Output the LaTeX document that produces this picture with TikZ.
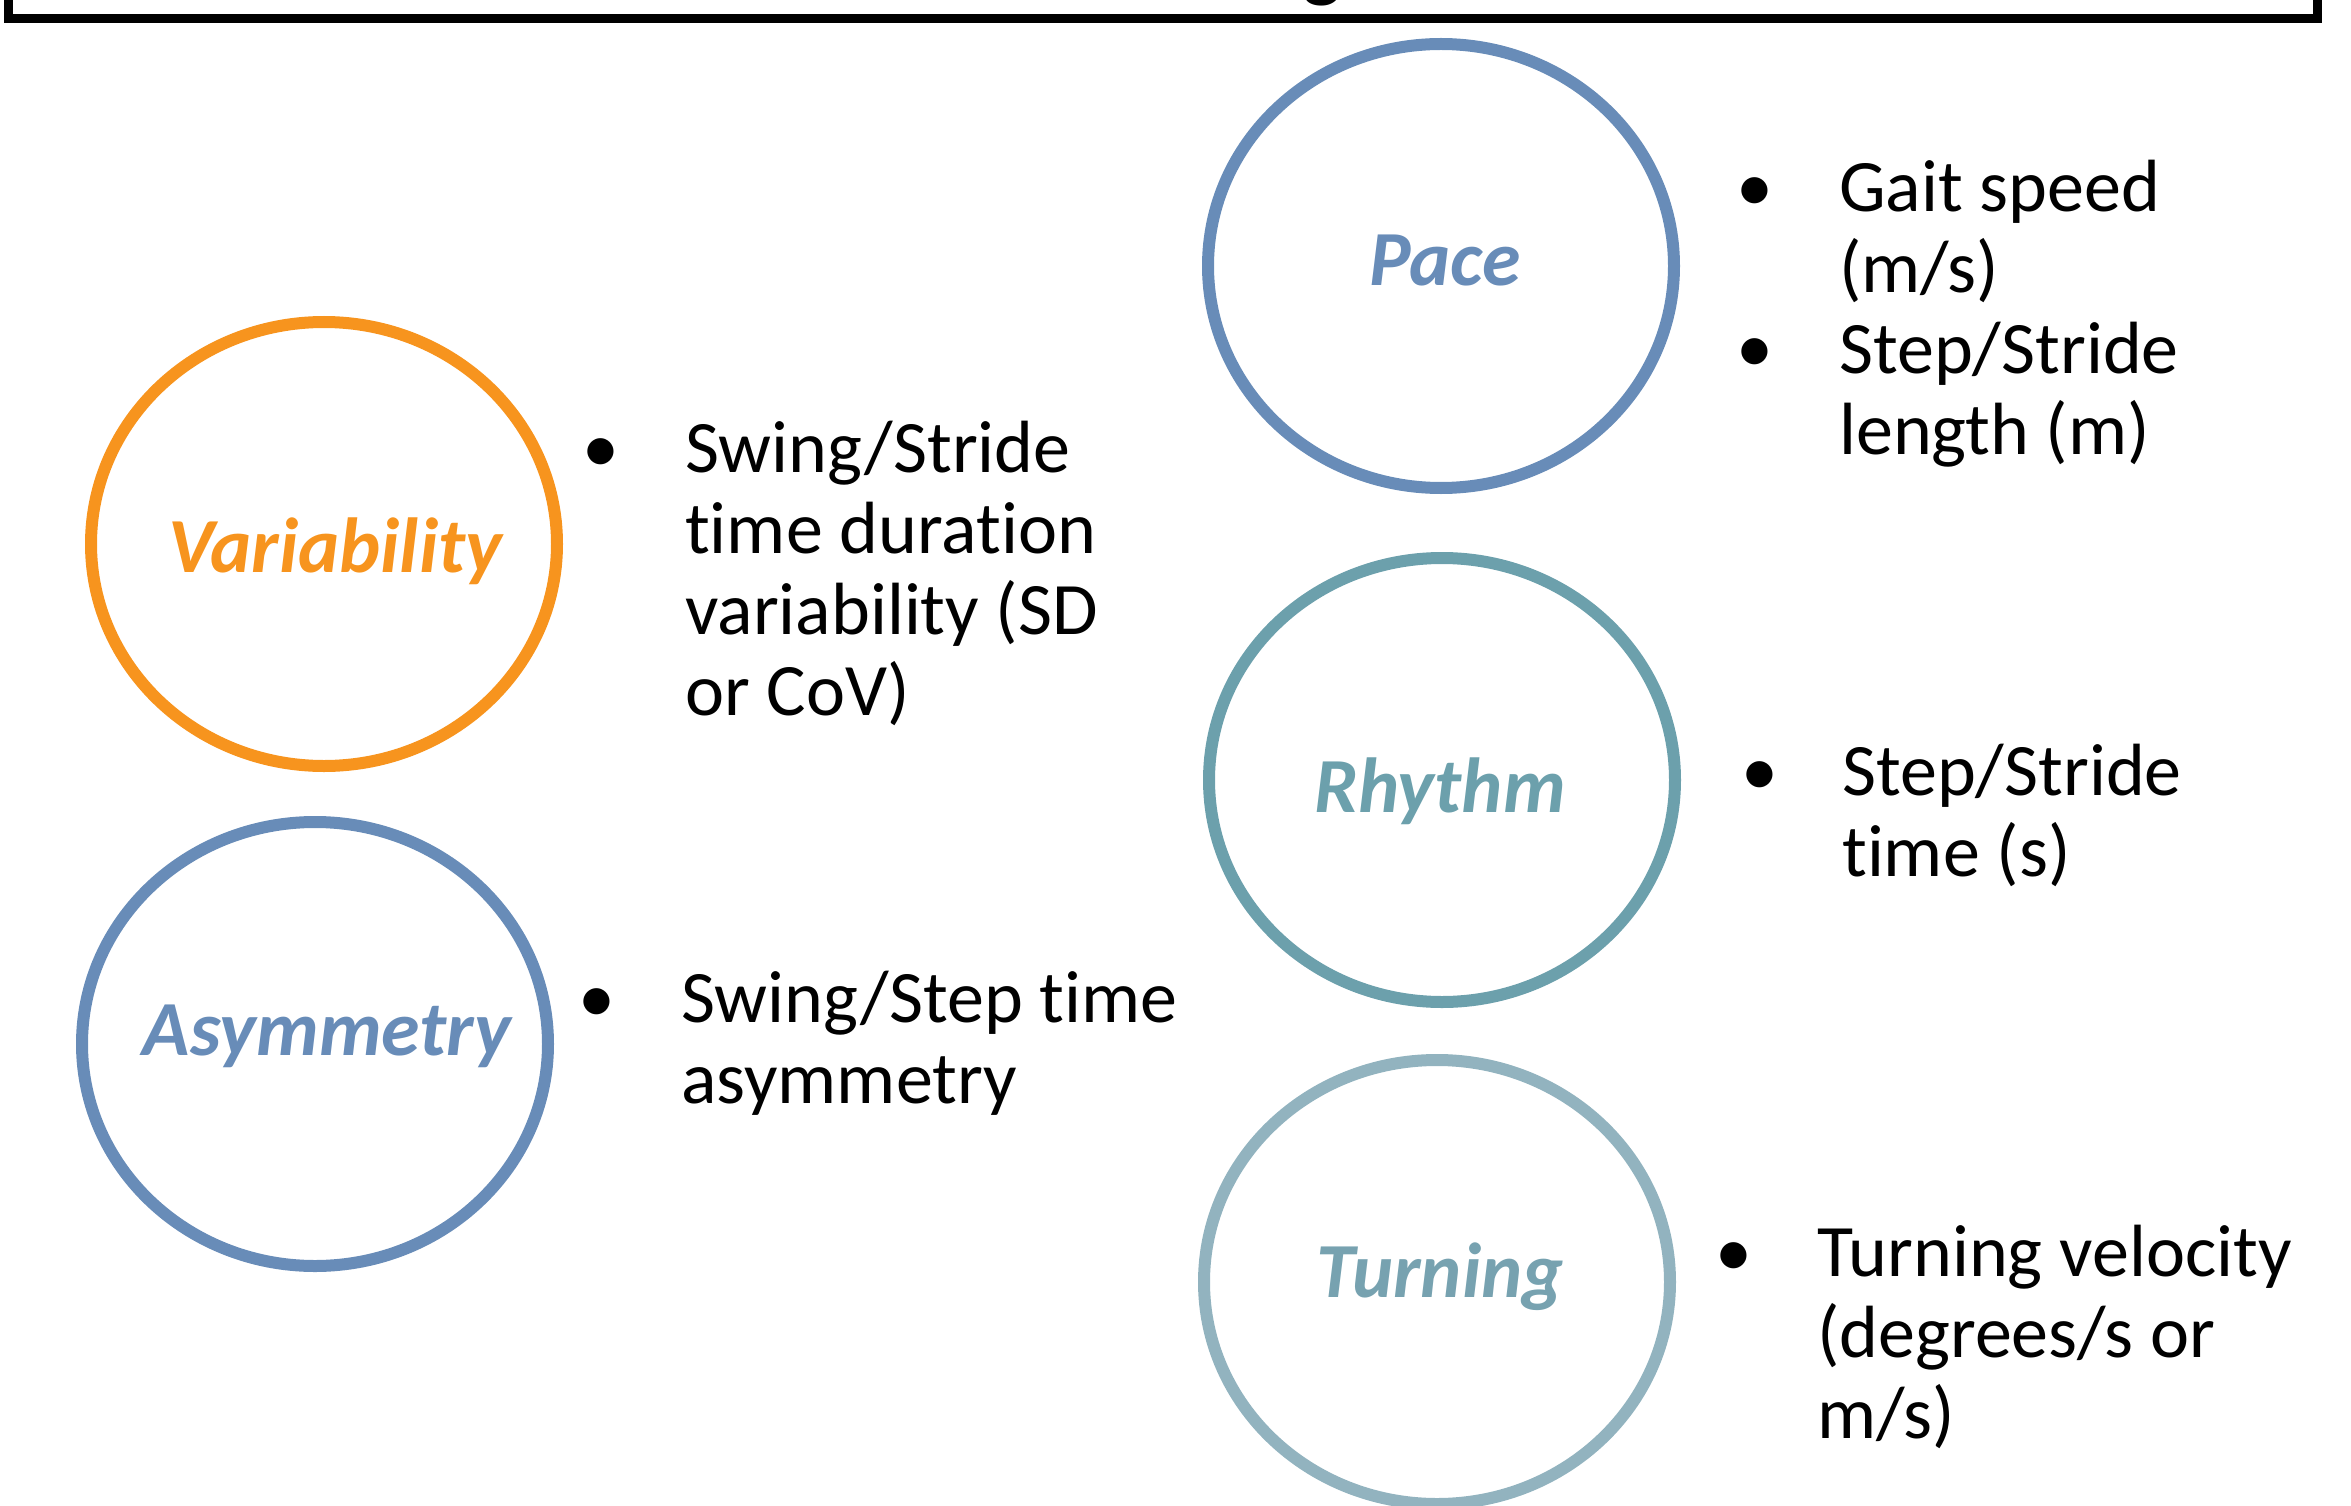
\documentclass[tikz,border=0pt]{standalone}
\usepackage{fontspec}
\setmainfont{Carlito}[Ligatures=CommonOff]
\usetikzlibrary{shapes.geometric}
\definecolor{pacec}{RGB}{104,140,184}
\definecolor{varc}{RGB}{247,148,30}
\definecolor{rhyc}{RGB}{108,160,172}
\definecolor{turnc}{RGB}{146,179,191}
\definecolor{turntext}{RGB}{119,162,176}
\begin{document}
\begin{tikzpicture}[x=1pt,y=-1pt,
  ring/.style={draw, ellipse, line width=12pt, minimum width=466pt, minimum height=444pt, inner sep=0pt},
  lab/.style={font=\fontsize{78}{90}\selectfont\bfseries\itshape, anchor=base, inner sep=0pt},
  item/.style={font=\fontsize{74}{81}\selectfont, align=left, anchor=base west, inner sep=0pt},
  dot/.style={font=\fontsize{74}{81}\selectfont, anchor=base, inner sep=0pt}
]
\useasboundingbox (0,0) rectangle (2351,1506);
% title frame (only its lower part is visible)
\node[draw, line width=9pt, minimum width=2309pt, minimum height=200pt, anchor=south, inner sep=0pt] (titlebox) at (1162.5,23.5) {};
\node[font=\fontsize{80}{90}\selectfont\bfseries, anchor=base, inner sep=0pt] (titleg) at (1322,-7) {g};

% circles
\node[ring, draw=pacec] (pace) at (1441,266) {};
\node[ring, draw=varc] (var) at (324,544) {};
\node[ring, draw=pacec] (asym) at (315,1044) {};
\node[ring, draw=rhyc] (rhy) at (1442,780) {};
\node[ring, draw=turnc] (turn) at (1437,1282) {};

% labels
\node[lab, text=pacec] (pacelab) at (1445,286) {Pace};
\node[lab, text=varc] (varlab) at (335,572) {Variability};
\node[lab, text=pacec] (asymlab) at (327,1055) {Asymmetry};
\node[lab, text=rhyc] (rhylab) at (1440,812) {Rhythm};
\node[lab, text=turntext] (turnlab) at (1440,1297) {Turning};

% Pace items (multi-line nodes are placed by their last baseline)
\node[dot] (paceb1) at (1755,212) {•};
\node[item] (pacet1) at (1839,293) {Gait speed\\(m/s)};
\node[dot] (paceb2) at (1755,373) {•};
\node[item] (pacet2) at (1839,454) {Step/Stride\\length (m)};

% Variability item
\node[dot] (varb) at (601,472) {•};
\node[item] (vart) at (685,715) {Swing/Stride\\time duration\\variability (SD\\or CoV)};

% Rhythm item
\node[dot] (rhyb) at (1760,795) {•};
\node[item] (rhyt) at (1842,876) {Step/Stride\\time (s)};

% Asymmetry item
\node[dot] (asymb) at (597,1022) {•};
\node[item] (asymt) at (681,1103) {Swing/Step time\\asymmetry};

% Turning item
\node[dot] (turnb) at (1734,1276) {•};
\node[item] (turnt) at (1817,1438) {Turning velocity\\(degrees/s or\\m/s)};
\end{tikzpicture}
\end{document}
